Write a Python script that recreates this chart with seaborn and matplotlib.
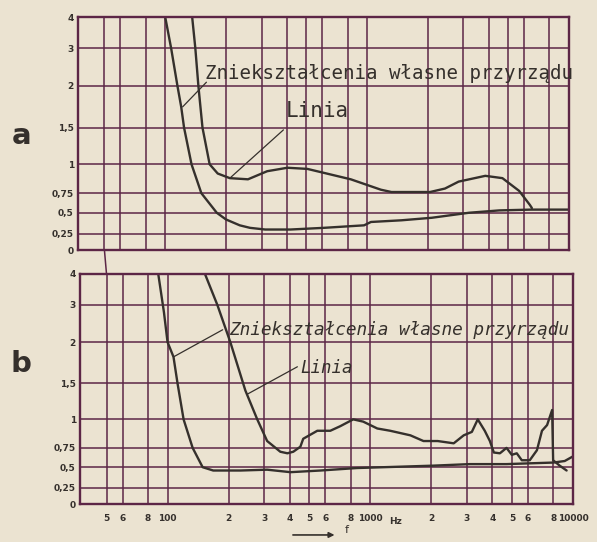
import numpy as np
import matplotlib.pyplot as plt
import seaborn as sns
from matplotlib.patches import ConnectionPatch, FancyArrowPatch

# ---------------------------------------------------------------
# data (frequency in Hz, distortion in %)
# ---------------------------------------------------------------

# panel a
a_own_f = [100, 107, 115, 120, 124, 135, 151, 180, 200, 234, 263, 313,
           417, 610, 966, 1045, 1480, 2090, 3200, 4520, 6500, 10000]
a_own_v = [4.0, 3.0, 2.0, 1.75, 1.5, 1.0, 0.75, 0.5, 0.42, 0.35, 0.32, 0.30,
           0.30, 0.32, 0.35, 0.39, 0.41, 0.44, 0.50, 0.53, 0.54, 0.54]

a_line_f = [136, 141, 146, 153, 166, 182, 209, 257, 320, 403, 506, 830,
            1170, 1320, 2050, 2430, 2840, 3850, 4680, 5660, 6400, 6550]
a_line_v = [4.0, 3.0, 2.0, 1.5, 1.0, 0.92, 0.88, 0.87, 0.94, 0.97, 0.96, 0.87,
            0.78, 0.76, 0.76, 0.79, 0.85, 0.90, 0.88, 0.77, 0.60, 0.56]

# panel b
b_own_f = [90, 96, 100, 107, 112, 120, 133, 149, 168, 229, 310, 404,
           568, 860, 2040, 3100, 4700, 6100, 8000, 9100, 10000]
b_own_v = [4.0, 2.8, 2.0, 1.82, 1.5, 1.0, 0.75, 0.5, 0.46, 0.46, 0.47, 0.44,
           0.46, 0.49, 0.52, 0.54, 0.54, 0.55, 0.56, 0.58, 0.64]

b_line_f = [153, 176, 204, 242, 277, 310, 360, 390, 417, 452, 467, 548,
            635, 711, 824, 923, 1083, 1254, 1577, 1830, 2150, 2580, 2890,
            3170, 3390, 3670, 3890, 4070, 4360, 4700, 4990, 5280, 5590,
            6120, 6640, 7030, 7450, 7890, 7980, 8600, 9300]
b_line_v = [4.0, 3.0, 2.0, 1.4, 1.0, 0.81, 0.70, 0.68, 0.70, 0.76, 0.83, 0.90,
            0.90, 0.94, 1.0, 0.98, 0.92, 0.90, 0.86, 0.81, 0.81, 0.79, 0.86,
            0.89, 1.0, 0.90, 0.81, 0.69, 0.68, 0.75, 0.66, 0.68, 0.59,
            0.59, 0.72, 0.90, 0.95, 1.13, 0.59, 0.52, 0.46]

# axes: hand-drawn grid
x_grid = [50, 60, 80, 100, 200, 300, 400, 500, 600, 800,
          1000, 2000, 3000, 4000, 5000, 6000, 8000, 10000]
x_labels = ["5", "6", "8", "100", "2", "3", "4", "5", "6", "8",
            "1000", "2", "3", "4", "5", "6", "8", "10000"]
y_ticks = [0, 0.25, 0.5, 0.75, 1, 1.5, 2, 3, 4]
y_labels = ["0", "0,25", "0,5", "0,75", "1", "1,5", "2", "3", "4"]

label_own = "Zniekształcenia własne przyrządu"
label_line = "Linia"

# the paper's vertical scale is not uniform: piecewise-linear
y_frac = [0, 0.07, 0.16, 0.244, 0.368, 0.525, 0.704, 0.866, 1.0]


def fwd(v):
    return np.interp(v, y_ticks, y_frac)


def inv(p):
    return np.interp(p, y_frac, y_ticks)


# ---------------------------------------------------------------
# style
# ---------------------------------------------------------------
sns.set_theme(style="white")
plt.rcParams["font.family"] = ["DejaVu Sans"]

PAPER = "#ebe3d1"
GRID = "#5c2646"
INK = "#35302c"
HAND = "DejaVu Sans Mono"   # hand lettering is roughly even-width

fig = plt.figure(figsize=(5.97, 5.42), dpi=100, facecolor=PAPER)
ax_a = fig.add_axes([0.1307, 0.5387, 0.8224, 0.4299])
ax_b = fig.add_axes([0.134, 0.0701, 0.8258, 0.4244])

curves = {
    ax_a: [(a_own_f, a_own_v), (a_line_f, a_line_v)],
    ax_b: [(b_own_f, b_own_v), (b_line_f, b_line_v)],
}

for ax, pairs in curves.items():
    ax.set_facecolor(PAPER)
    for f, v in pairs:
        sns.lineplot(x=f, y=v, ax=ax, color=INK, lw=1.7, sort=False,
                     estimator=None)
    ax.set_xscale("log")
    ax.set_yscale("function", functions=(fwd, inv))
    ax.set_xlim(37, 10000)
    ax.set_ylim(0, 4)
    ax.set_xticks(x_grid)
    ax.xaxis.set_minor_locator(plt.NullLocator())
    ax.yaxis.set_minor_locator(plt.NullLocator())
    ax.set_yticks(y_ticks)
    ax.set_yticklabels(y_labels, fontsize=6.5, fontweight="bold", color=INK)
    ax.grid(True, which="major", color=GRID, lw=1.1)
    for s in ax.spines.values():
        s.set_color(GRID)
        s.set_linewidth(1.7)
    ax.tick_params(length=0, pad=3)
    ax.set_xlabel("")
    ax.set_ylabel("")

ax_a.set_xticklabels([])
ax_b.set_xticklabels(x_labels, fontsize=6.5, fontweight="bold", color=INK)
ax_b.tick_params(axis="x", pad=7)
ax_b.text(1240, -0.058, "Hz", transform=ax_b.get_xaxis_transform(),
          fontsize=6.5, fontweight="bold", color=INK, va="top")

# 50 Hz line runs on between the two panels
fig.add_artist(ConnectionPatch(xyA=(50, 0), coordsA=ax_a.transData,
                               xyB=(50, 4), coordsB=ax_b.transData,
                               color=GRID, lw=1.1))

# labels with leader strokes
lead = dict(arrowstyle="-", color=INK, lw=0.9, shrinkA=0, shrinkB=0)
ax_a.text(157, 2.18, label_own, fontsize=13.8, family=HAND, color=INK,
          va="baseline")
ax_a.annotate("", xy=(122, 1.75), xytext=(160, 2.1), arrowprops=lead)
ax_a.text(394, 1.63, label_line, fontsize=15, family=HAND, color=INK,
          va="baseline")
ax_a.annotate("", xy=(209, 0.88), xytext=(385, 1.47), arrowprops=lead)

ax_b.text(200, 2.19, label_own, fontsize=12.8, family=HAND, color=INK,
          va="baseline", style="italic")
ax_b.annotate("", xy=(107, 1.82), xytext=(187, 2.33), arrowprops=lead)
ax_b.text(452, 1.62, label_line, fontsize=12.5, family=HAND, color=INK,
          va="baseline", style="italic")
ax_b.annotate("", xy=(248, 1.35), xytext=(437, 1.7), arrowprops=lead)

# panel letters
fig.text(0.036, 0.75, "a", fontsize=21, fontweight="bold", color=INK,
         ha="center", va="center")
fig.text(0.035, 0.328, "b", fontsize=21, fontweight="bold", color=INK,
         ha="center", va="center")

# frequency arrow under the axis
fig.add_artist(FancyArrowPatch(
    (0.486, 0.013), (0.565, 0.013), transform=fig.transFigure,
    arrowstyle="-|>", mutation_scale=8, color=INK, lw=1.2))
fig.text(0.578, 0.012, "f", fontsize=8, color=INK, va="bottom")

plt.savefig("out.png", dpi=100, facecolor=PAPER)
